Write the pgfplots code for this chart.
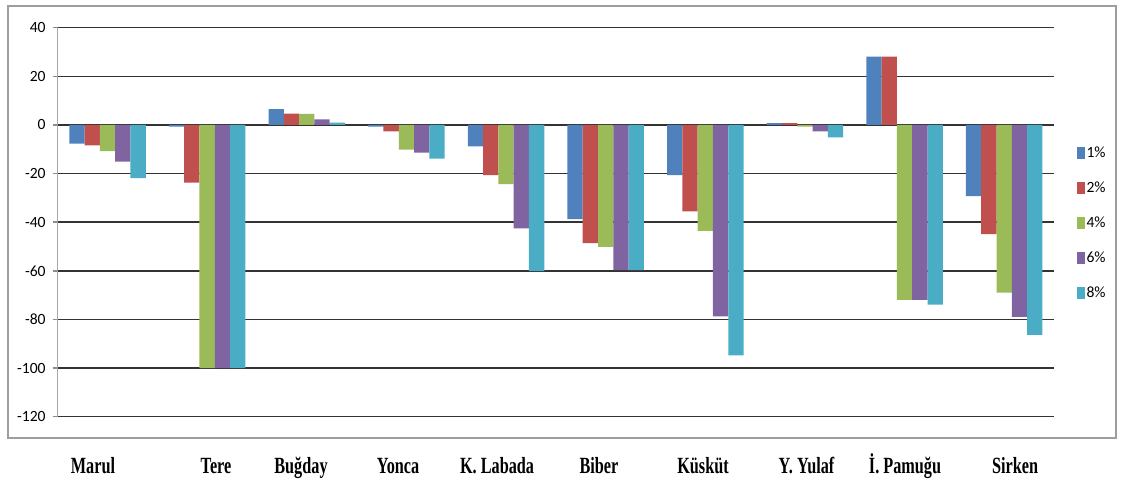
\documentclass[border=0pt]{standalone}
\usepackage{fontspec}
\setmainfont{Liberation Serif}
\newfontfamily\carlito{Carlito}
\usepackage{graphicx}
\usepackage{pgfplots}
\usepackage{pgfplotstable}
\pgfplotsset{compat=1.18}
\definecolor{c1}{HTML}{4F81BD}
\definecolor{c2}{HTML}{C0504D}
\definecolor{c3}{HTML}{9BBB59}
\definecolor{c4}{HTML}{8064A2}
\definecolor{c5}{HTML}{4BACC6}
\newcommand\cl[1]{\scalebox{0.7}[1]{#1}}
\pgfplotstableread{
x  a      b      c      d      e
0  -7.7   -8.4   -10.8  -15.1  -21.9
1  -0.7   -23.7  -100   -100   -100
2  6.5    4.7    4.6    2.3    1.0
3  -0.7   -2.6   -10.2  -11.4  -13.9
4  -8.8   -20.6  -24.3  -42.5  -60.1
5  -38.7  -48.6  -50.2  -59.7  -59.7
6  -20.6  -35.5  -43.6  -78.7  -94.8
7  0.8    0.8    -0.7   -2.6   -5.1
8  28.1   28.1   -71.9  -71.9  -73.9
9  -29.3  -44.9  -69.0  -78.9  -86.3
}\data
\begin{document}
\begin{tikzpicture}
\useasboundingbox (-28.85pt,-32.65pt) rectangle (531.65pt,208.35pt);
\draw[color=black!38, line width=0.9pt] (-24.85pt,205.35pt) rectangle (529.15pt,-10.8pt);
\begin{axis}[
  at={(0pt,0pt)}, anchor=south west,
  scale only axis, width=498.15pt, height=194.5pt,
  ymin=-120, ymax=40, ytick={-120,-100,...,40},
  xmin=-0.5, xmax=9.5,
  xtick={-0.146,1.089,1.942,2.916,3.91,4.933,5.977,7.016,8.005,9.109},
  xticklabels={\cl{Marul},\cl{Tere},\cl{Buğday},\cl{Yonca},\cl{K. Labada},\cl{Biber},\cl{Küsküt},\cl{Y. Yulaf},\cl{İ. Pamuğu},\cl{Sirken}},
  xticklabel style={font=\bfseries\fontsize{11.6}{13}\selectfont, anchor=base, yshift=-26pt},
  x axis line style={draw=none},
  xtick style={draw=none},
  axis y line=left,
  y axis line style={-, draw=black!35, line width=0.8pt},
  ytick style={draw=black!45, line width=0.7pt},
  tick align=outside, major tick length=2.5pt,
  yticklabel style={font=\carlito\fontsize{7.8}{9}\selectfont, /pgf/number format/assume math mode=true},
  ymajorgrids, major grid style={draw=black!80, line width=0.8pt},
  ybar=0pt, bar width=7.65pt,
  legend style={draw=none, fill=none, at={(1.017,0.497)}, anchor=west,
    font=\carlito\fontsize{7.8}{9}\selectfont, row sep=9.5pt,
    nodes={inner sep=0.6pt}},
  legend cell align=left,
  legend image code/.code={\fill[#1] (0pt,-3pt) rectangle (4pt,3pt);},
]
\addplot[fill=c1, draw=none] table[x=x,y=a]{\data};
\addplot[fill=c2, draw=none] table[x=x,y=b]{\data};
\addplot[fill=c3, draw=none] table[x=x,y=c]{\data};
\addplot[fill=c4, draw=none] table[x=x,y=d]{\data};
\addplot[fill=c5, draw=none] table[x=x,y=e]{\data};
\legend{1\%,2\%,4\%,6\%,8\%}
\end{axis}
\end{tikzpicture}
\end{document}
